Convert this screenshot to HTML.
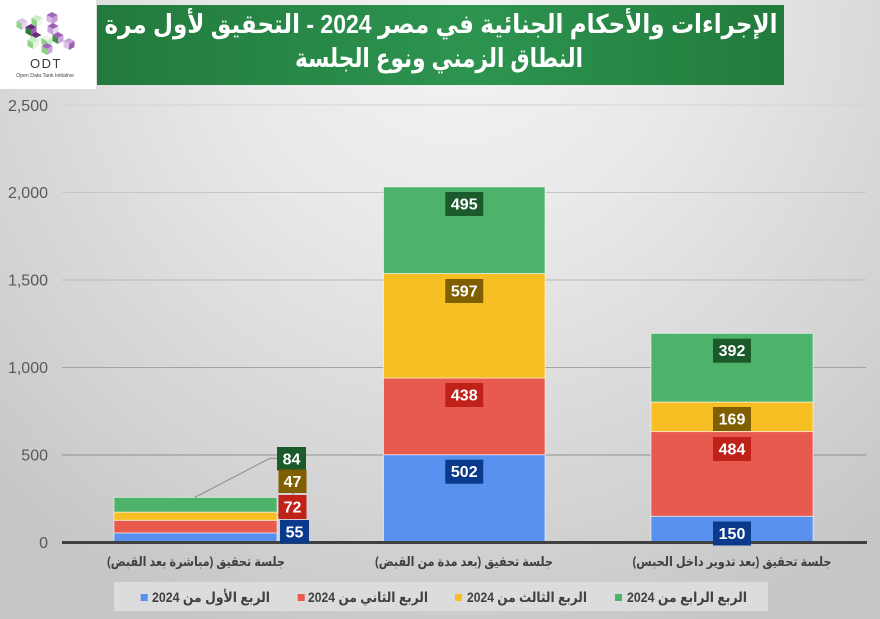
<!DOCTYPE html>
<html><head><meta charset="utf-8">
<style>
html,body{margin:0;padding:0;}
body{width:880px;height:619px;overflow:hidden;background:radial-gradient(ellipse 75% 110% at 52% 0%,#f4f4f4 0%,#e9e9e9 35%,#d4d4d4 75%,#c6c6c6 100%);}
svg{display:block;}
text{font-family:"Liberation Sans","DejaVu Sans",sans-serif;}
</style></head>
<body>
<svg width="880" height="619" viewBox="0 0 880 619" xmlns="http://www.w3.org/2000/svg">
<defs>
<linearGradient id="tg" x1="0" y1="0" x2="1" y2="0">
<stop offset="0" stop-color="#227a3c"/>
<stop offset="0.55" stop-color="#2d9450"/>
<stop offset="1" stop-color="#227b3c"/>
</linearGradient>
</defs>

<!-- logo -->
<rect x="0" y="0" width="96" height="89" fill="#ffffff"/>
<g>
<g transform="translate(52,12)"><polygon points="0,0 5.5,3 0,6 -5.5,3" fill="#a266be"/><polygon points="-5.5,3 0,6 0,12 -5.5,9" fill="#d6b6e4"/><polygon points="0,6 5.5,3 5.5,9 0,12" fill="#c49ad6"/></g>
<g transform="translate(37,15)"><polygon points="0,0 5.5,3 0,6 -5.5,3" fill="#c6ecc0"/><polygon points="-5.5,3 0,6 0,12 -5.5,9" fill="#8fd18a"/><polygon points="0,6 5.5,3 5.5,9 0,12" fill="#eef8ec"/></g>
<g transform="translate(22,18)"><polygon points="0,0 5.5,3 0,6 -5.5,3" fill="#dcc3e6"/><polygon points="-5.5,3 0,6 0,12 -5.5,9" fill="#8fd18a"/><polygon points="0,6 5.5,3 5.5,9 0,12" fill="#e8d6ef"/></g>
<g transform="translate(53,23)"><polygon points="0,0 5.5,3 0,6 -5.5,3" fill="#9c5fb5"/><polygon points="-5.5,3 0,6 0,12 -5.5,9" fill="#c9a4dc"/><polygon points="0,6 5.5,3 5.5,9 0,12" fill="#e8d6ef"/></g>
<g transform="translate(31,24)"><polygon points="0,0 5.5,3 0,6 -5.5,3" fill="#6b2a7e"/><polygon points="-5.5,3 0,6 0,12 -5.5,9" fill="#2f7a3a"/><polygon points="0,6 5.5,3 5.5,9 0,12" fill="#9c5fb5"/></g>
<g transform="translate(36,32)"><polygon points="0,0 5.5,3 0,6 -5.5,3" fill="#6b2a7e"/><polygon points="-5.5,3 0,6 0,12 -5.5,9" fill="#a9dfa2"/><polygon points="0,6 5.5,3 5.5,9 0,12" fill="#e8f6e3"/></g>
<g transform="translate(58,32)"><polygon points="0,0 5.5,3 0,6 -5.5,3" fill="#9c5fb5"/><polygon points="-5.5,3 0,6 0,12 -5.5,9" fill="#3f8f45"/><polygon points="0,6 5.5,3 5.5,9 0,12" fill="#c9a4dc"/></g>
<g transform="translate(47,35)"><polygon points="0,0 5.5,3 0,6 -5.5,3" fill="#e8f6e3"/><polygon points="-5.5,3 0,6 0,12 -5.5,9" fill="#8fd18a"/><polygon points="0,6 5.5,3 5.5,9 0,12" fill="#c6ecc0"/></g>
<g transform="translate(33,37)"><polygon points="0,0 5.5,3 0,6 -5.5,3" fill="#c6ecc0"/><polygon points="-5.5,3 0,6 0,12 -5.5,9" fill="#8fd18a"/><polygon points="0,6 5.5,3 5.5,9 0,12" fill="#e8f6e3"/></g>
<g transform="translate(69,38)"><polygon points="0,0 5.5,3 0,6 -5.5,3" fill="#c9a4dc"/><polygon points="-5.5,3 0,6 0,12 -5.5,9" fill="#dcc3e6"/><polygon points="0,6 5.5,3 5.5,9 0,12" fill="#9c5fb5"/></g>
<g transform="translate(47,43)"><polygon points="0,0 5.5,3 0,6 -5.5,3" fill="#a266be"/><polygon points="-5.5,3 0,6 0,12 -5.5,9" fill="#8fd18a"/><polygon points="0,6 5.5,3 5.5,9 0,12" fill="#c9a4dc"/></g>
</g>
<text x="46" y="68" font-size="13" fill="#3a3a3a" text-anchor="middle" letter-spacing="1.5">ODT</text>
<text x="45" y="77" font-size="5.2" fill="#444" text-anchor="middle">Open Data Tank Initiative</text>

<!-- title -->
<rect x="97" y="5" width="687" height="80" fill="url(#tg)"/>
<text x="441" y="33" font-size="26" font-weight="bold" fill="#ffffff" text-anchor="middle" direction="rtl" textLength="673" lengthAdjust="spacingAndGlyphs">الإجراءات والأحكام الجنائية في مصر 2024 - التحقيق لأول مرة</text>
<text x="439" y="67" font-size="26" font-weight="bold" fill="#ffffff" text-anchor="middle" direction="rtl" textLength="288" lengthAdjust="spacingAndGlyphs">النطاق الزمني ونوع الجلسة</text>

<!-- gridlines -->
<line x1="62" y1="105" x2="866" y2="105" stroke="#d3d3d3" stroke-width="1"/>
<line x1="62" y1="192.5" x2="866" y2="192.5" stroke="#c6c6c6" stroke-width="1"/>
<line x1="62" y1="280" x2="866" y2="280" stroke="#b8b8b8" stroke-width="1"/>
<line x1="62" y1="367.5" x2="866" y2="367.5" stroke="#a4a4a4" stroke-width="1"/>
<line x1="62" y1="455" x2="866" y2="455" stroke="#8f8f8f" stroke-width="1"/>

<!-- y labels -->
<g font-size="16" fill="#595959" text-anchor="end">
<text x="48" y="111">2,500</text>
<text x="48" y="198">2,000</text>
<text x="48" y="285.5">1,500</text>
<text x="48" y="373">1,000</text>
<text x="48" y="460.5">500</text>
<text x="48" y="548">0</text>
</g>

<!-- bars -->
<g stroke="rgba(255,255,255,0.55)" stroke-width="1">
<rect x="114" y="532.9" width="163" height="9.6" fill="#5891ee"/>
<rect x="114" y="520.3" width="163" height="12.6" fill="#e8594e"/>
<rect x="114" y="512.1" width="163" height="8.2" fill="#f8bf24"/>
<rect x="114" y="497.4" width="163" height="14.7" fill="#4db26a"/>
<rect x="383.5" y="454.65" width="161.5" height="87.85" fill="#5891ee"/>
<rect x="383.5" y="378" width="161.5" height="76.65" fill="#e8594e"/>
<rect x="383.5" y="273.5" width="161.5" height="104.5" fill="#f8bf24"/>
<rect x="383.5" y="186.9" width="161.5" height="86.6" fill="#4db26a"/>
<rect x="651" y="516.25" width="162" height="26.25" fill="#5891ee"/>
<rect x="651" y="431.55" width="162" height="84.7" fill="#e8594e"/>
<rect x="651" y="401.97" width="162" height="29.58" fill="#f8bf24"/>
<rect x="651" y="333.4" width="162" height="68.57" fill="#4db26a"/>
</g>

<!-- axis -->
<line x1="62" y1="542.5" x2="867" y2="542.5" stroke="#404040" stroke-width="3"/>

<!-- leader lines -->
<polyline points="195,497.3 270,458.3 277.5,458.3" fill="none" stroke="#8a8a8a" stroke-width="1"/>
<line x1="294" y1="492.7" x2="277.7" y2="516" stroke="#8a8a8a" stroke-width="1"/>

<!-- data labels -->
<g font-size="16" font-weight="bold" fill="#ffffff" text-anchor="middle">
<rect x="277" y="447" width="29" height="23.5" fill="#1a5a2b"/><text x="291.5" y="464.5">84</text>
<rect x="278.5" y="469.5" width="28" height="23.5" fill="#7f5f00"/><text x="292.5" y="487">47</text>
<rect x="278.5" y="495" width="28" height="24" fill="#c0221a"/><text x="292.5" y="512.5">72</text>
<rect x="280" y="520" width="29" height="23.5" fill="#0b3a8c"/><text x="294.5" y="537.5">55</text>

<rect x="445.25" y="192" width="38" height="24" fill="#1a5a2b"/><text x="464.25" y="209.5">495</text>
<rect x="445.25" y="279" width="38" height="24" fill="#7f5f00"/><text x="464.25" y="296.5">597</text>
<rect x="445.25" y="383" width="38" height="24" fill="#c0221a"/><text x="464.25" y="400.5">438</text>
<rect x="445.25" y="459.7" width="38" height="24" fill="#0b3a8c"/><text x="464.25" y="477.2">502</text>

<rect x="713" y="338.7" width="38" height="24" fill="#1a5a2b"/><text x="732" y="356.2">392</text>
<rect x="713" y="407" width="38" height="24" fill="#7f5f00"/><text x="732" y="424.5">169</text>
<rect x="713" y="437" width="38" height="24" fill="#c0221a"/><text x="732" y="454.5">484</text>
<rect x="713" y="521.5" width="38" height="24" fill="#0b3a8c"/><text x="732" y="539">150</text>
</g>

<!-- category labels -->
<g font-size="13" font-weight="bold" fill="#404040" text-anchor="middle" direction="rtl">
<text x="196" y="566" textLength="178" lengthAdjust="spacingAndGlyphs">جلسة تحقيق (مباشرة بعد القبض)</text>
<text x="464" y="566" textLength="178" lengthAdjust="spacingAndGlyphs">جلسة تحقيق (بعد مدة من القبض)</text>
<text x="732" y="566" textLength="199" lengthAdjust="spacingAndGlyphs">جلسة تحقيق (بعد تدوير داخل الحبس)</text>
</g>

<!-- legend -->
<rect x="114" y="582" width="654" height="29" fill="#dcdcdc"/>
<rect x="615" y="594" width="7" height="7" fill="#4db26a"/>
<rect x="455" y="594" width="7" height="7" fill="#f8bf24"/>
<rect x="297.7" y="594" width="7" height="7" fill="#e8594e"/>
<rect x="140.7" y="594" width="7" height="7" fill="#5891ee"/>
<g font-size="14" font-weight="bold" fill="#404040" text-anchor="middle" direction="rtl">
<text x="687" y="602" textLength="120" lengthAdjust="spacingAndGlyphs">الربع الرابع من 2024</text>
<text x="527" y="602" textLength="120" lengthAdjust="spacingAndGlyphs">الربع الثالث من 2024</text>
<text x="368" y="602" textLength="120" lengthAdjust="spacingAndGlyphs">الربع الثاني من 2024</text>
<text x="211" y="602" textLength="118" lengthAdjust="spacingAndGlyphs">الربع الأول من 2024</text>
</g>
</svg>
</body></html>
